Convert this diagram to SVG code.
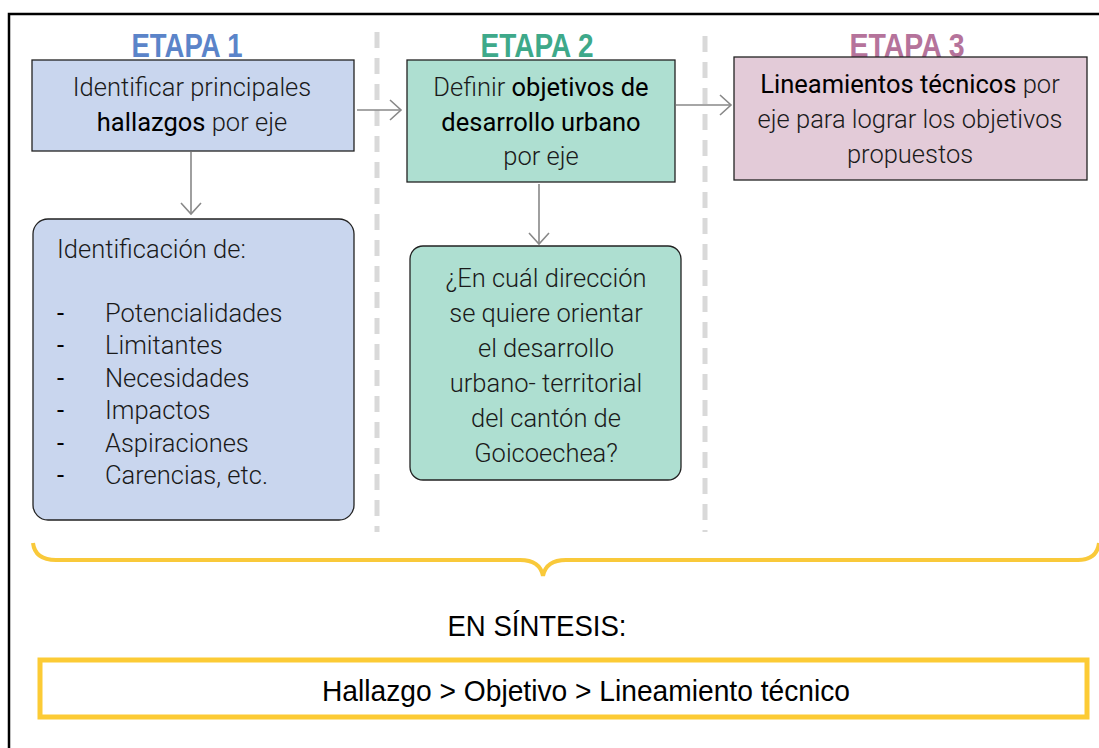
<svg xmlns="http://www.w3.org/2000/svg" width="1099" height="748" viewBox="0 0 1099 748">
<style>
.hd{font-family:"Liberation Sans",Arial,sans-serif;font-weight:bold;font-size:33px;text-anchor:middle}
.t{font-family:Roboto,"Liberation Sans",Arial,sans-serif;font-weight:300;font-size:25.5px;fill:#1a1a1a}
.c{text-anchor:middle}
.b{font-weight:400;fill:#000}
.d{font-weight:400;fill:#000}
.box{stroke:#222;stroke-width:1.3}
.sep{stroke:#d9d9d9;stroke-width:5;stroke-dasharray:16 10;fill:none}
.con{stroke:#888;stroke-width:1.6;fill:none}
.n{font-family:"Liberation Sans",Arial,sans-serif;font-size:30px;fill:#000;text-anchor:middle}
</style>
<defs>
<marker id="ah" markerUnits="userSpaceOnUse" markerWidth="14" markerHeight="24" refX="12" refY="11" orient="auto">
<path d="M1,1 L12,11 L1,21" stroke="#888" stroke-width="1.6" fill="none"/>
</marker>
</defs>
<rect width="1099" height="748" fill="#fff"/>
<path d="M9,748 L9,14 L1099,14" fill="none" stroke="#000" stroke-width="2.5"/>
<g id="separators">
<line class="sep" x1="377" y1="32" x2="377" y2="532"/>
<line class="sep" x1="705" y1="36" x2="705" y2="532"/>
</g>
<g id="etapa1">
<text class="hd" x="187" y="57" fill="#5b84c9" textLength="111" lengthAdjust="spacingAndGlyphs">ETAPA 1</text>
<rect class="box" x="32" y="60" width="322" height="91" fill="#c9d6ee"/>
<text class="t c" x="192" y="96">Identificar principales</text>
<text class="t c" x="192" y="131"><tspan class="b">hallazgos</tspan> por eje</text>
</g>
<g id="etapa1-detalle">
<rect class="box" x="33" y="219" width="321" height="301" rx="15" fill="#c9d6ee"/>
<text class="t" x="57" y="258">Identificación de:</text>
<g class="t">
<text class="d" x="57" y="322">-</text><text x="105" y="322">Potencialidades</text>
<text class="d" x="57" y="354">-</text><text x="105" y="354">Limitantes</text>
<text class="d" x="57" y="387">-</text><text x="105" y="387">Necesidades</text>
<text class="d" x="57" y="419">-</text><text x="105" y="419">Impactos</text>
<text class="d" x="57" y="452">-</text><text x="105" y="452">Aspiraciones</text>
<text class="d" x="57" y="484">-</text><text x="105" y="484">Carencias, etc.</text>
</g>
</g>
<g id="etapa2">
<text class="hd" x="537" y="57" fill="#3ea98a" textLength="113" lengthAdjust="spacingAndGlyphs">ETAPA 2</text>
<rect class="box" x="407" y="60" width="268" height="122" fill="#aedfd1"/>
<text class="t c" x="541" y="96">Definir <tspan class="b">objetivos de</tspan></text>
<text class="t c" x="541" y="131"><tspan class="b">desarrollo urbano</tspan></text>
<text class="t c" x="541" y="165">por eje</text>
</g>
<g id="etapa2-detalle">
<rect class="box" x="410" y="246" width="271" height="234" rx="13" fill="#aedfd1"/>
<g class="t c">
<text x="546" y="287">¿En cuál dirección</text>
<text x="546" y="322">se quiere orientar</text>
<text x="546" y="357">el desarrollo</text>
<text x="546" y="392">urbano- territorial</text>
<text x="546" y="427">del cantón de</text>
<text x="546" y="462">Goicoechea?</text>
</g>
</g>
<g id="etapa3">
<text class="hd" x="907" y="57" fill="#b5739b" textLength="115" lengthAdjust="spacingAndGlyphs">ETAPA 3</text>
<rect class="box" x="734" y="57" width="353" height="123" fill="#e3cbd8"/>
<text class="t c" x="910" y="93"><tspan class="b">Lineamientos técnicos</tspan> por</text>
<text class="t c" x="910" y="128">eje para lograr los objetivos</text>
<text class="t c" x="910" y="163">propuestos</text>
</g>
<g id="connectors">
<line class="con" x1="191" y1="152" x2="191" y2="214" marker-end="url(#ah)"/>
<line class="con" x1="357" y1="110" x2="401" y2="110" marker-end="url(#ah)"/>
<line class="con" x1="539" y1="184" x2="539" y2="244" marker-end="url(#ah)"/>
<line class="con" x1="676" y1="105" x2="731" y2="105" marker-end="url(#ah)"/>
</g>
<g id="sintesis">
<path d="M33,543 Q35,560 56,560 L520,560 Q540,560 543,576 Q546,560 566,560 L1078,560 Q1097,560 1099,543" fill="none" stroke="#f9c93a" stroke-width="4"/>
<text class="n" x="537" y="636" textLength="179" lengthAdjust="spacingAndGlyphs">EN SÍNTESIS:</text>
<rect x="40" y="660" width="1047" height="57" fill="none" stroke="#fccb35" stroke-width="5"/>
<text class="n" x="586" y="701" textLength="528" lengthAdjust="spacingAndGlyphs">Hallazgo &gt; Objetivo &gt; Lineamiento técnico</text>
</g>
</svg>
